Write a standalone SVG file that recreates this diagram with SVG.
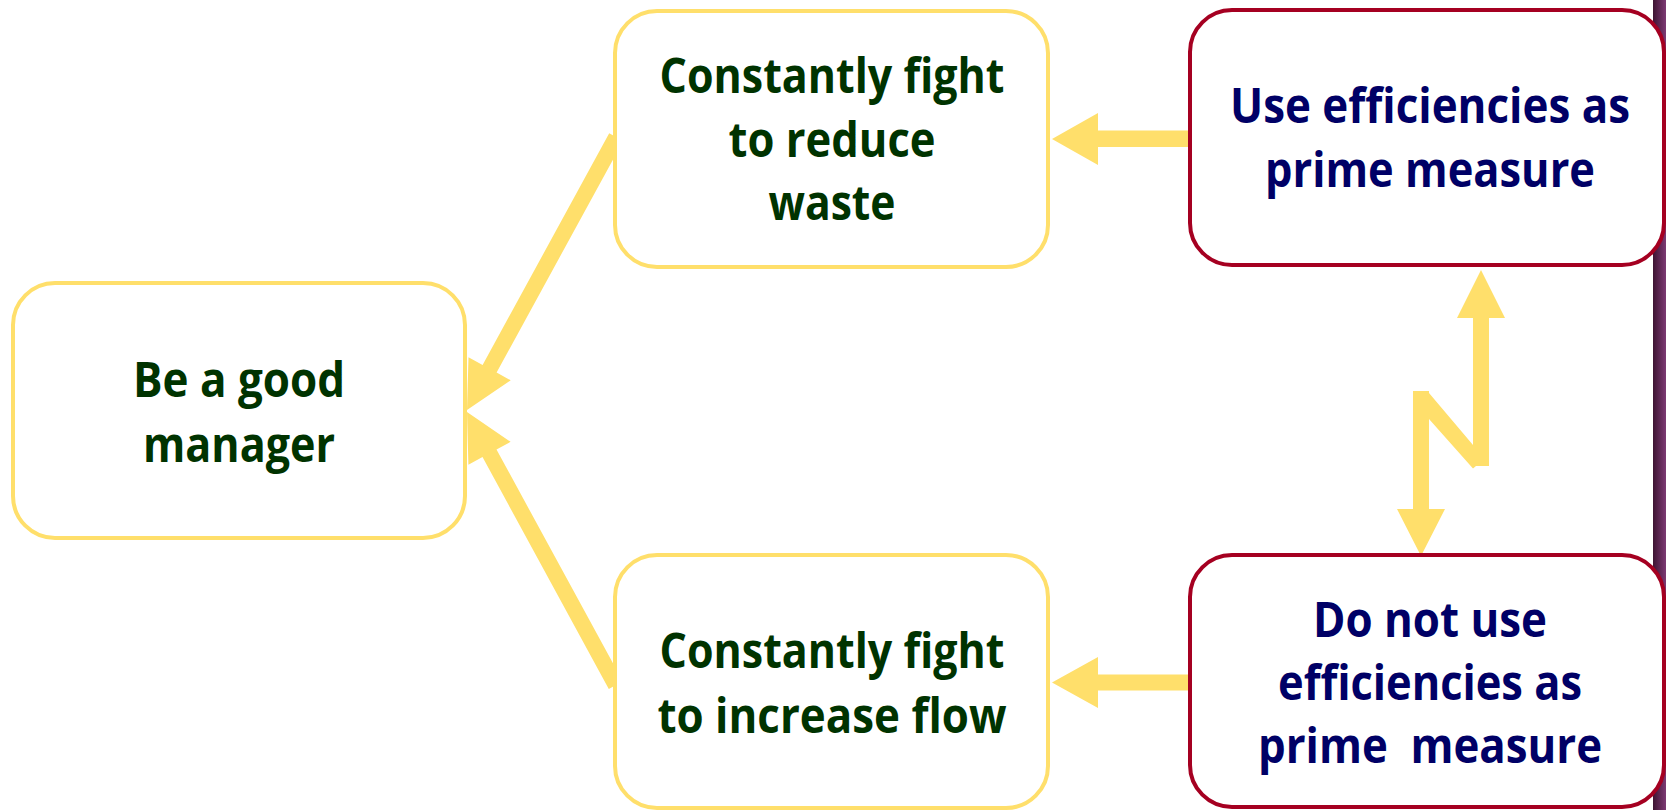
<svg xmlns="http://www.w3.org/2000/svg" width="1666" height="810" viewBox="0 0 1666 810">
  <defs>
    <linearGradient id="edge" x1="0" y1="0" x2="1" y2="0">
      <stop offset="0" stop-color="#3e1432"/>
      <stop offset="1" stop-color="#7d3a74"/>
    </linearGradient>
    <style>
      .conn { fill: #FFDF6B; stroke: none; }
      .ybox { fill: #ffffff; stroke: #FFDF6B; stroke-width: 4; }
      .rbox { fill: #ffffff; stroke: #A50021; stroke-width: 4; }
      .t { font-family: "Open Sans", "Liberation Sans", sans-serif; font-weight: bold; font-size: 48px; text-anchor: middle; }
      .g { fill: #003300; }
      .n { fill: #000066; }
    </style>
  </defs>
  <rect width="1666" height="810" fill="#ffffff"/>
  <rect x="1653" y="0" width="13" height="810" fill="url(#edge)"/>

  <g id="connectors">
    <polygon class="conn" points="623.2,140.9 496.6,372.6 510.7,380.3 467,410 468.5,357.3 482.6,365 609.2,133.3"/>
    <polygon class="conn" points="622.8,681.3 496.5,449.5 510.6,441.8 467,412 468.4,464.8 482.5,457.1 608.8,688.9"/>
    <polygon class="conn" points="1194,130.5 1098,130.5 1098,113 1052,139 1098,165 1098,147 1194,147"/>
    <polygon class="conn" points="1194,674.5 1098,674.5 1098,657 1052,682.5 1098,708 1098,690.5 1194,690.5"/>
    <polygon class="conn" points="1481,270 1505,318 1489,318 1489,466 1476,466 1473,468.5 1429,419 1429,509 1445,509 1421,556 1397,509 1413,509 1413,391 1429,391 1429,393 1473,445 1473,318 1457,318"/>
  </g>

  <g id="node-manager">
    <rect class="ybox" x="13" y="283" width="452" height="255" rx="42" ry="42"/>
    <text class="t g" x="239" y="397" textLength="212" lengthAdjust="spacingAndGlyphs">Be a good</text>
    <text class="t g" x="239" y="462" textLength="192" lengthAdjust="spacingAndGlyphs">manager</text>
  </g>

  <g id="node-waste">
    <rect class="ybox" x="615" y="11" width="433" height="256" rx="42" ry="42"/>
    <text class="t g" x="832" y="93" textLength="345" lengthAdjust="spacingAndGlyphs">Constantly fight</text>
    <text class="t g" x="832" y="157" textLength="207" lengthAdjust="spacingAndGlyphs">to reduce</text>
    <text class="t g" x="832" y="220" textLength="127" lengthAdjust="spacingAndGlyphs">waste</text>
  </g>

  <g id="node-flow">
    <rect class="ybox" x="615" y="555" width="433" height="253" rx="42" ry="42"/>
    <text class="t g" x="832" y="668" textLength="345" lengthAdjust="spacingAndGlyphs">Constantly fight</text>
    <text class="t g" x="832" y="733" textLength="349" lengthAdjust="spacingAndGlyphs">to increase flow</text>
  </g>

  <g id="node-use-eff">
    <rect class="rbox" x="1190" y="10" width="474" height="255" rx="42" ry="42"/>
    <text class="t n" x="1430" y="123" textLength="400" lengthAdjust="spacingAndGlyphs">Use efficiencies as</text>
    <text class="t n" x="1430" y="187" textLength="330" lengthAdjust="spacingAndGlyphs">prime measure</text>
  </g>

  <g id="node-not-use-eff">
    <rect class="rbox" x="1190" y="555" width="474" height="252" rx="42" ry="42"/>
    <text class="t n" x="1430" y="637" textLength="234" lengthAdjust="spacingAndGlyphs">Do not use</text>
    <text class="t n" x="1430" y="700" textLength="304" lengthAdjust="spacingAndGlyphs">efficiencies as</text>
    <text class="t n" x="1430" y="763" textLength="344" lengthAdjust="spacingAndGlyphs" xml:space="preserve">prime  measure</text>
  </g>
</svg>
